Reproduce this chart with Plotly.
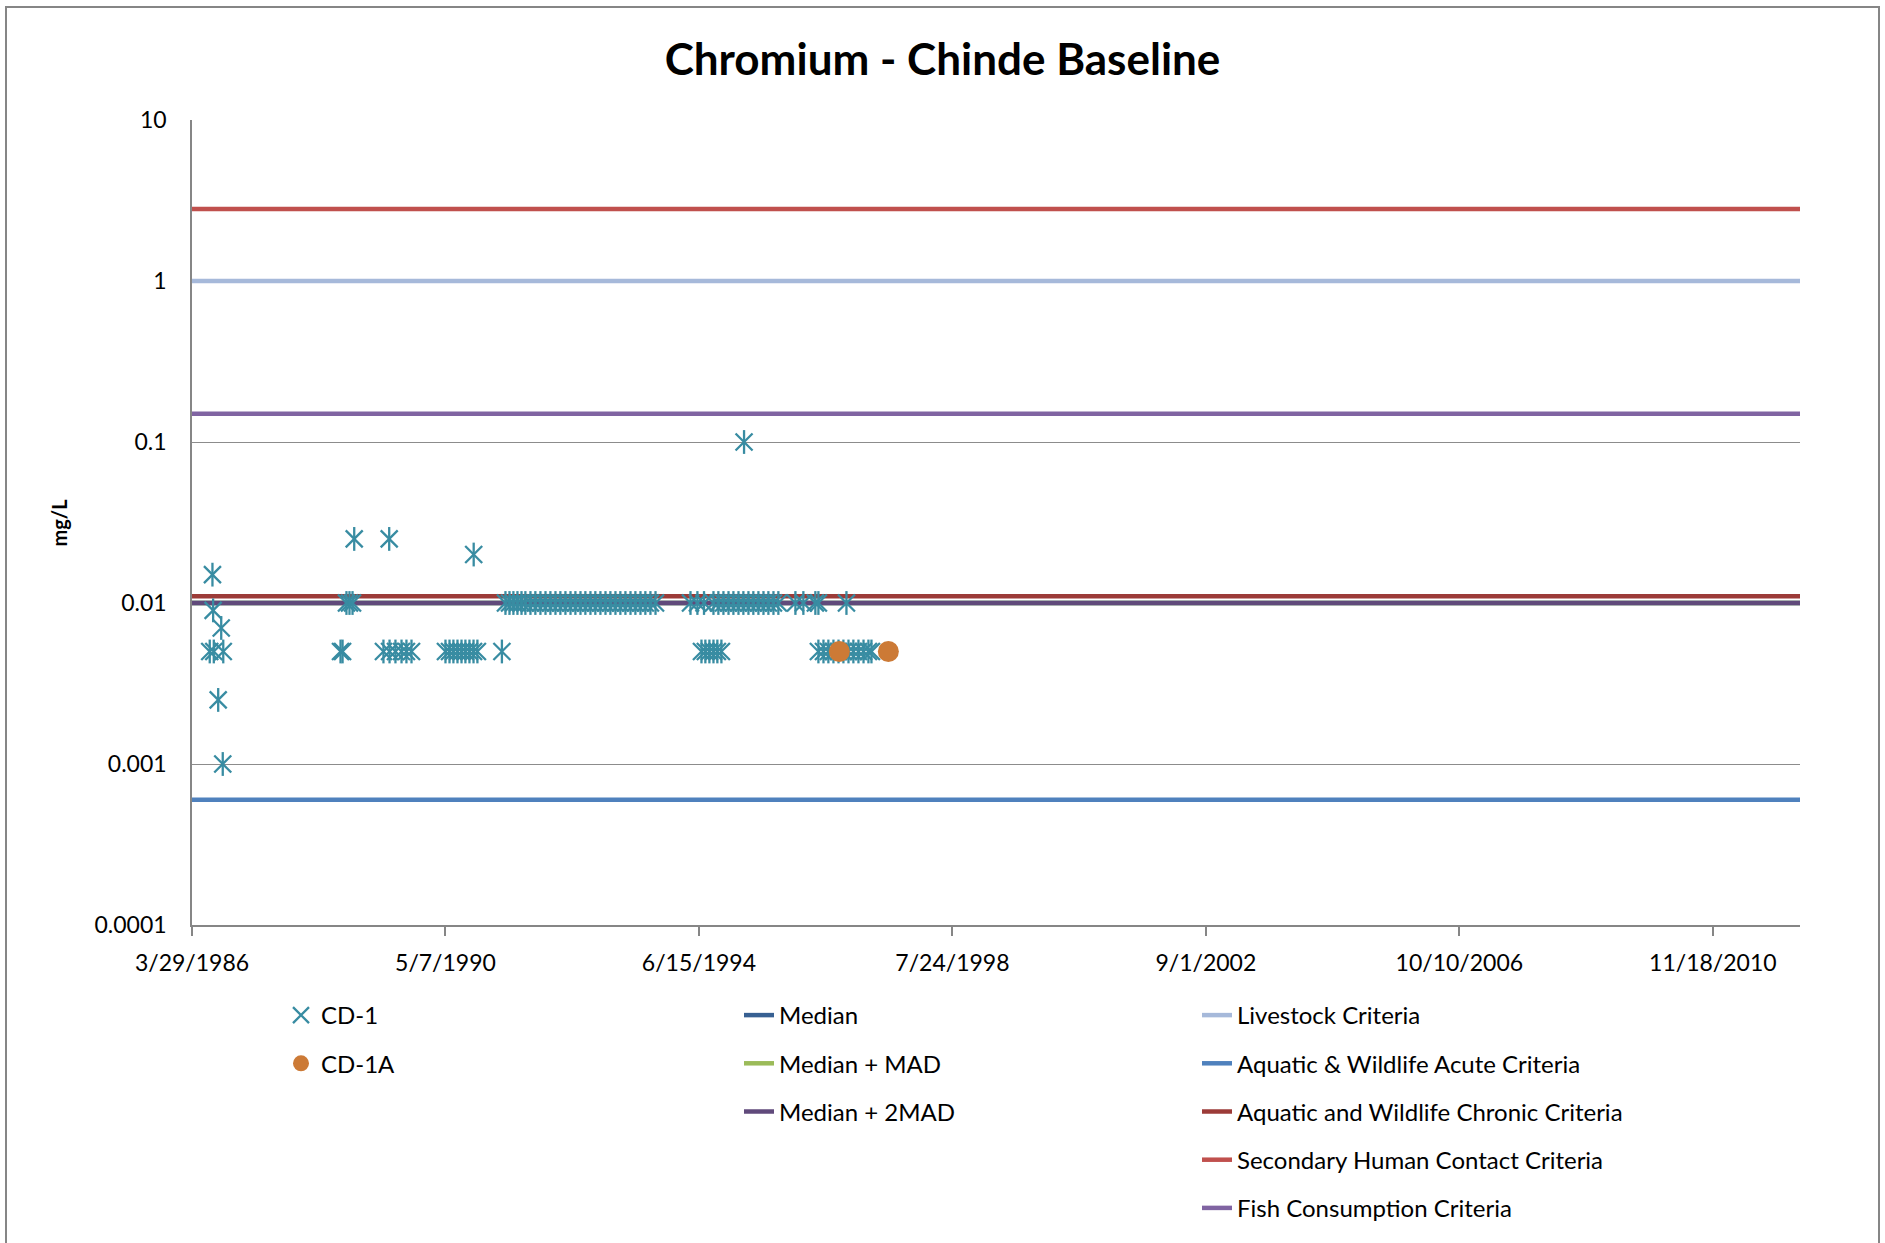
import pandas as pd
import plotly.graph_objects as go

# ---------------- data ----------------
# Sample dates as Excel serial day numbers, concentrations in mg/L
cd1_serial = [
    31605, 31621, 31625, 31629, 31655, 31673, 31682, 31685,
    32379, 32391, 32414, 32432, 32450, 32460, 32667,
    32633, 32669, 32704, 32740, 32769, 32799,
    33000, 33024, 33047, 33071, 33095, 33118, 33142, 33166, 33189, 33167, 33334,
    33355, 33379, 33402, 33426, 33450, 33473, 33503, 33532,
    33562, 33592, 33621, 33651, 33680, 33710, 33740, 33769, 33799, 33828,
    33858, 33887, 33917, 33947, 33976, 34006, 34035, 34065, 34095, 34124,
    34154, 34183, 34213, 34243, 34450, 34491, 34530,
    34586, 34615, 34645, 34675, 34704, 34734, 34763, 34793, 34822,
    34852, 34882, 34911, 34941, 34970, 35071, 35118, 35189, 35207,
    35373, 34767,
    34515, 34538, 34562, 34586, 34609, 34633,
    35207, 35237, 35266, 35296, 35326, 35355, 35385, 35414, 35444, 35474,
    35503, 35521,
]
cd1_value = [
    0.005, 0.015, 0.009, 0.005, 0.0025, 0.007, 0.001, 0.005,
    0.005, 0.005, 0.01, 0.01, 0.01, 0.025, 0.025,
    0.005, 0.005, 0.005, 0.005, 0.005, 0.005,
    0.005, 0.005, 0.005, 0.005, 0.005, 0.005, 0.005, 0.005, 0.005, 0.02, 0.005,
    0.01, 0.01, 0.01, 0.01, 0.01, 0.01, 0.01, 0.01,
    0.01, 0.01, 0.01, 0.01, 0.01, 0.01, 0.01, 0.01, 0.01, 0.01,
    0.01, 0.01, 0.01, 0.01, 0.01, 0.01, 0.01, 0.01, 0.01, 0.01,
    0.01, 0.01, 0.01, 0.01, 0.01, 0.01, 0.01,
    0.01, 0.01, 0.01, 0.01, 0.01, 0.01, 0.01, 0.01, 0.01,
    0.01, 0.01, 0.01, 0.01, 0.01, 0.01, 0.01, 0.01, 0.01,
    0.01, 0.1,
    0.005, 0.005, 0.005, 0.005, 0.005, 0.005,
    0.005, 0.005, 0.005, 0.005, 0.005, 0.005, 0.005, 0.005, 0.005, 0.005,
    0.005, 0.005,
]
cd1a_serial = [35331, 35621]
cd1a_value = [0.005, 0.005]

# Reference / criteria lines (mg/L)
line_names = ["Median", "Median + MAD", "Median + 2MAD",
              "Livestock Criteria", "Aquatic & Wildlife Acute Criteria",
              "Aquatic and Wildlife Chronic Criteria",
              "Secondary Human Contact Criteria", "Fish Consumption Criteria"]
line_values = [0.01, 0.01, 0.01, 1.0, 0.0006, 0.011, 2.8, 0.15]
line_colors = ["#376092", "#9BBB59", "#604A7B", "#A6B9DA", "#4F81BD",
               "#9C3B38", "#C0504D", "#8064A2"]
line_legend = ["legend2", "legend2", "legend2", "legend3", "legend3",
               "legend3", "legend3", "legend3"]

# Axis
x_min_serial = 31500
x_max_serial = 41016
x_tick_serial = [31500, 33000, 34500, 36000, 37500, 39000, 40500]
x_tick_text = ["3/29/1986", "5/7/1990", "6/15/1994", "7/24/1998",
               "9/1/2002", "10/10/2006", "11/18/2010"]
y_tick_vals = [0.0001, 0.001, 0.01, 0.1, 1, 10]
y_tick_text = ["0.0001", "0.001", "0.01", "0.1", "1", "10"]


def to_date(s):
    return pd.to_datetime(pd.Series(s), unit="D", origin="1899-12-30")


cd1_dates = to_date(cd1_serial)
cd1a_dates = to_date(cd1a_serial)
x_range = to_date([x_min_serial, x_max_serial])
x_ticks = to_date(x_tick_serial)

FONT = "Lato, 'Open Sans', sans-serif"
TEAL = "#388CA2"

fig = go.Figure()

# criteria lines
for name, val, col, lg in zip(line_names, line_values, line_colors, line_legend):
    fig.add_trace(go.Scatter(
        x=list(x_range), y=[val, val], mode="lines", name=name,
        line=dict(color=col, width=4.5), legend=lg, legendgroup=name,
        hoverinfo="name+y"))

# CD-1 as Excel-style star: X plus vertical bar
fig.add_trace(go.Scatter(
    x=cd1_dates, y=cd1_value, mode="markers", name="CD-1",
    legend="legend", legendgroup="CD-1",
    marker=dict(symbol="x-thin-open", size=17, color=TEAL,
                line=dict(color=TEAL, width=2.3))))
fig.add_trace(go.Scatter(
    x=cd1_dates, y=cd1_value, mode="markers", name="CD-1",
    legend="legend", legendgroup="CD-1", showlegend=False,
    marker=dict(symbol="line-ns-open", size=17, color=TEAL,
                line=dict(color=TEAL, width=2.3))))
fig.add_trace(go.Scatter(
    x=cd1a_dates, y=cd1a_value, mode="markers", name="CD-1A",
    legend="legend", legendgroup="CD-1A",
    marker=dict(symbol="circle", size=21, color="#CC7A36",
                line=dict(width=0))))

legend_common = dict(
    xref="container", yref="container", xanchor="left", yanchor="top",
    font=dict(family=FONT, size=24, color="#000000"),
    bgcolor="rgba(0,0,0,0)", traceorder="grouped", tracegroupgap=14,
    itemwidth=30,
)
LEG_Y = 1 - 993 / 1243

fig.update_layout(
    width=1885, height=1243,
    margin=dict(l=192, r=85, t=120, b=318, autoexpand=False),
    paper_bgcolor="white", plot_bgcolor="white",
    font=dict(family=FONT, size=23, color="#000000"),
    title=dict(text="<b>Chromium - Chinde Baseline</b>", x=0.5, xref="container",
               xanchor="center", y=1 - 60 / 1243, yref="container",
               yanchor="middle", font=dict(family=FONT, size=44, color="#000000")),
    xaxis=dict(
        type="date", range=list(x_range), tickvals=list(x_ticks),
        ticktext=x_tick_text, showgrid=False, zeroline=False,
        showline=True, linecolor="#868686", linewidth=1.5,
        ticks="outside", ticklen=9, tickcolor="#868686", tickwidth=1.5,
        ticklabelstandoff=8,
        tickfont=dict(family=FONT, size=23, color="#000000"),
    ),
    yaxis=dict(
        type="log", range=[-4, 1], tickvals=y_tick_vals, ticktext=y_tick_text,
        showgrid=True, gridcolor="#8C8C8C", gridwidth=1.2,
        showline=True, linecolor="#868686", linewidth=1.5, zeroline=False,
        ticks="", ticklabelstandoff=19,
        tickfont=dict(family=FONT, size=23, color="#000000"),
    ),
    legend=dict(x=281 / 1885, y=LEG_Y, **legend_common),
    legend2=dict(x=739 / 1885, y=LEG_Y, **legend_common),
    legend3=dict(x=1197 / 1885, y=LEG_Y, **legend_common),
    showlegend=True,
)

# y-axis title
fig.add_annotation(text="<b>mg/L</b>", xref="paper", yref="paper",
                   x=(58 - 192) / 1608, y=0.5, textangle=-90, showarrow=False,
                   xanchor="center", yanchor="middle",
                   font=dict(family=FONT, size=20, color="#000000"))

# outer chart border (decorative frame like the spreadsheet chart area)
fig.add_shape(type="rect", xref="paper", yref="paper",
              x0=(6 - 192) / 1608, x1=(1879 - 192) / 1608,
              y0=(925 - 1250) / 805, y1=(925 - 7) / 805,
              line=dict(color="#868686", width=2), fillcolor="rgba(0,0,0,0)",
              layer="below")

fig.write_html("out.html", config={"displayModeBar": False},
               post_script="document.body.style.margin='0';"
                           "document.body.style.overflow='hidden';")
